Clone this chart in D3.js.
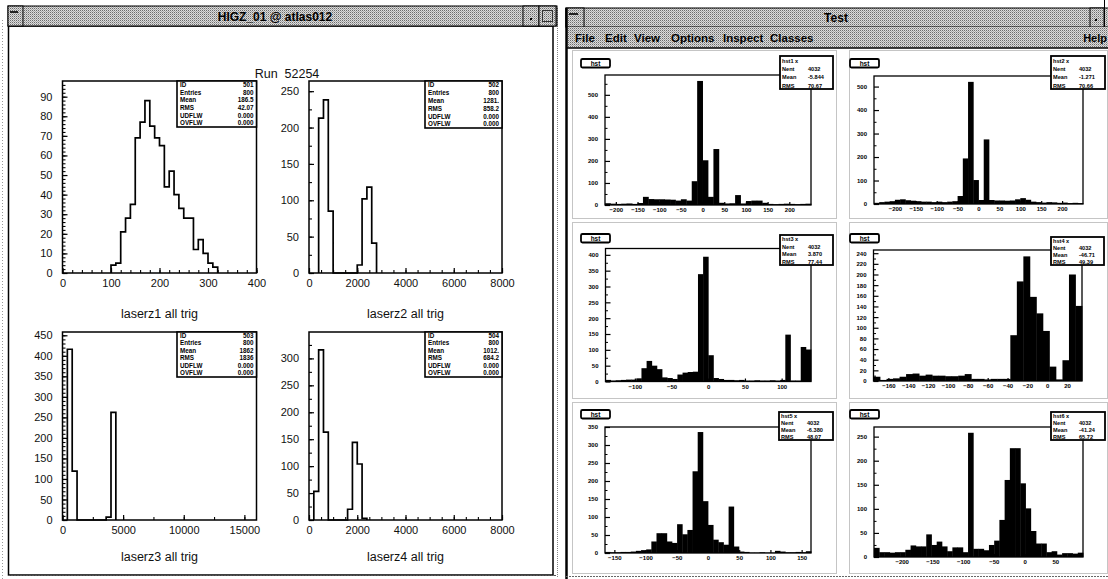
<!DOCTYPE html>
<html><head><meta charset="utf-8">
<script src="https://cdn.jsdelivr.net/npm/d3@7"></script>
<style>body{margin:0;background:#fff}svg{display:block}</style>
</head><body>
<svg id="c" width="1108" height="579"></svg>
<script>
// ---------------- DATA ----------------
const leftWindowTitle = "HIGZ_01 @ atlas012";
const runTitle = "Run  52254";
const leftTitles = ["laserz1 all trig", "laserz2 all trig", "laserz3 all trig", "laserz4 all trig"];
const statLabels = ["ID", "Entries", "Mean", "RMS", "UDFLW", "OVFLW"];

const laserz1Start = 100, laserz1BinWidth = 10;
const laserz1Counts = [4, 5, 21, 28, 35, 69, 77, 88, 75, 69, 65, 44, 52, 40, 33, 28, 28, 12, 17, 10, 5, 3];
const laserz1XTicks = [0, 100, 200, 300, 400];
const laserz1YTicks = [0, 10, 20, 30, 40, 50, 60, 70, 80, 90];
const laserz1Stats = ["501", "800", "186.5", "42.07", "0.000", "0.000"];

const laserz2Start = 400, laserz2BinWidth = 200;
const laserz2Counts = [213, 238, 85, 0, 0, 0, 0, 0, 11, 102, 118, 41];
const laserz2XTicks = [0, 2000, 4000, 6000, 8000];
const laserz2YTicks = [0, 50, 100, 150, 200, 250];
const laserz2Stats = ["502", "800", "1281.", "858.2", "0.000", "0.000"];

const laserz3Start = 400, laserz3BinWidth = 400;
const laserz3Counts = [416, 119, 0, 0, 0, 0, 0, 0, 7, 262];
const laserz3XTicks = [0, 5000, 10000, 15000];
const laserz3YTicks = [0, 50, 100, 150, 200, 250, 300, 350, 400, 450];
const laserz3Stats = ["503", "800", "1862", "1836", "0.000", "0.000"];

const laserz4Start = 200, laserz4BinWidth = 200;
const laserz4Counts = [53, 316, 163, 0, 0, 0, 0, 20, 144, 104, 3];
const laserz4XTicks = [0, 2000, 4000, 6000, 8000];
const laserz4YTicks = [0, 50, 100, 150, 200, 250, 300];
const laserz4Stats = ["504", "800", "1012.", "684.2", "0.000", "0.000"];

const rightWindowTitle = "Test";
const menuItems = ["File", "Edit", "View", "Options", "Inspect", "Classes"];
const helpItem = "Help";
const padTitle = "hst";
const padStatLabels = ["", "Nent", "Mean", "RMS"];

const pad1Domain = [-225, 250];
const pad1Counts = [8, 6, 5, 6, 7, 5, 9, 37, 27, 26, 26, 25, 24, 20, 26, 20, 108, 563, 203, 37, 254, 10, 7, 8, 45, 7, 18, 20, 20, 10, 5, 4, 5, 6, 5, 4, 5, 6];
const pad1XTicks = [-200, -150, -100, -50, 0, 50, 100, 150, 200];
const pad1YTicks = [0, 100, 200, 300, 400, 500];
const pad1Stats = ["hst1 x", "4032", "-5.844", "70.67"];

const pad2Domain = [-250, 250];
const pad2Counts = [5, 8, 10, 12, 18, 20, 16, 14, 12, 10, 10, 8, 10, 8, 10, 12, 34, 194, 520, 102, 17, 275, 17, 15, 15, 14, 15, 20, 25, 18, 10, 8, 6, 8, 7, 5, 6, 4, 5, 4];
const pad2XTicks = [-200, -150, -100, -50, 0, 50, 100, 150, 200];
const pad2YTicks = [0, 100, 200, 300, 400, 500];
const pad2Stats = ["hst2 x", "4032", "-1.271", "70.66"];

const pad3Domain = [-140, 140];
const pad3Counts = [5, 3, 4, 5, 6, 6, 10, 42, 65, 50, 39, 13, 11, 8, 22, 28, 30, 31, 339, 394, 83, 11, 8, 5, 5, 4, 5, 3, 3, 4, 3, 3, 4, 3, 5, 148, 3, 3, 109, 101];
const pad3XTicks = [-100, -50, 0, 50, 100];
const pad3YTicks = [0, 50, 100, 150, 200, 250, 300, 350, 400];
const pad3Stats = ["hst3 x", "4032", "3.870", "77.44"];

const pad4Domain = [-175, 35];
const pad4Counts = [8, 2, 4, 5, 8, 13, 14, 10, 12, 10, 10, 9, 9, 10, 13, 4, 4, 3, 4, 4, 4, 86, 187, 234, 158, 127, 94, 27, 3, 39, 200, 141];
const pad4XTicks = [-160, -140, -120, -100, -80, -60, -40, -20, 0, 20];
const pad4YTicks = [0, 20, 40, 60, 80, 100, 120, 140, 160, 180, 200, 220, 240];
const pad4Stats = ["hst4 x", "4032", "-46.71", "49.39"];

const pad5Domain = [-165, 165];
const pad5Counts = [3, 2, 2, 3, 3, 4, 6, 8, 10, 32, 55, 55, 32, 28, 80, 52, 64, 227, 336, 144, 78, 37, 30, 23, 129, 18, 4, 3, 1, 1, 2, 1, 1, 6, 4, 2, 2, 3, 2, 5];
const pad5XTicks = [-150, -100, -50, 0, 50, 100, 150];
const pad5YTicks = [0, 50, 100, 150, 200, 250, 300, 350];
const pad5Stats = ["hst5 x", "4032", "-6.380", "48.07"];

const pad6Domain = [-245, 95];
const pad6Counts = [19, 10, 10, 9, 10, 10, 15, 24, 22, 22, 47, 25, 32, 22, 12, 20, 20, 10, 258, 17, 17, 14, 25, 34, 77, 160, 226, 226, 153, 101, 54, 28, 28, 10, 12, 5, 8, 8, 7, 9];
const pad6XTicks = [-200, -150, -100, -50, 0, 50];
const pad6YTicks = [0, 50, 100, 150, 200, 250];
const pad6Stats = ["hst6 x", "4032", "-41.24", "65.72"];

// ---------------- DRAWING ----------------
const FONT = "'Liberation Sans', Arial, Helvetica, sans-serif";
const svg = d3.select("#c");
const defs = svg.append("defs");
const pat = defs.append("pattern").attr("id", "stip").attr("width", 2).attr("height", 2).attr("patternUnits", "userSpaceOnUse");
pat.append("rect").attr("width", 2).attr("height", 2).attr("fill", "#dcdcdc");
pat.append("rect").attr("width", 1).attr("height", 1).attr("fill", "#6c6c6c");
pat.append("rect").attr("x", 1).attr("y", 1).attr("width", 1).attr("height", 1).attr("fill", "#a8a8a8");

svg.append("rect").attr("width", 1108).attr("height", 579).attr("fill", "#fff");

svg.append("line").attr("x1", 2.5).attr("x2", 2.5).attr("y1", 20).attr("y2", 579).attr("stroke", "#999").attr("stroke-dasharray", "1,2");
svg.append("line").attr("x1", 557.5).attr("x2", 557.5).attr("y1", 8).attr("y2", 577).attr("stroke", "#888").attr("stroke-dasharray", "1,1");

// ---------- LEFT WINDOW ----------
svg.append("rect").attr("x", 8.5).attr("y", 26).attr("width", 544.5).attr("height", 549)
  .attr("fill", "#fff").attr("stroke", "#000").attr("stroke-width", 1.5);
svg.append("line").attr("x1", 8).attr("x2", 556).attr("y1", 575.5).attr("y2", 575.5).attr("stroke", "#555").attr("stroke-dasharray", "2,1");
svg.append("rect").attr("x", 8).attr("y", 6).attr("width", 549).attr("height", 20).attr("fill", "url(#stip)").attr("stroke", "#000").attr("stroke-width", 1);
svg.append("rect").attr("x", 8).attr("y", 6).attr("width", 15).attr("height", 20).attr("fill", "url(#stip)").attr("stroke", "#000").attr("stroke-width", 1);
svg.append("rect").attr("x", 10).attr("y", 11).attr("width", 8).attr("height", 2).attr("fill", "#222");
svg.append("rect").attr("x", 523).attr("y", 6).attr("width", 16).attr("height", 20).attr("fill", "url(#stip)").attr("stroke", "#000").attr("stroke-width", 1);
svg.append("rect").attr("x", 530).attr("y", 18).attr("width", 2).attr("height", 2).attr("fill", "#000");
svg.append("rect").attr("x", 539).attr("y", 6).attr("width", 17).attr("height", 20).attr("fill", "url(#stip)").attr("stroke", "#000").attr("stroke-width", 1);
svg.append("rect").attr("x", 542.5).attr("y", 10.5).attr("width", 10).attr("height", 11).attr("fill", "none").attr("stroke", "#333").attr("stroke-width", 1);
svg.append("text").attr("x", 275).attr("y", 21).attr("text-anchor", "middle").attr("font-family", FONT)
  .attr("font-size", 12).attr("font-weight", "bold").attr("fill", "#000").text(leftWindowTitle);

svg.append("text").attr("x", 287).attr("y", 77.5).attr("text-anchor", "middle").attr("font-family", FONT)
  .attr("font-size", 12.5).attr("fill", "#111").style("white-space", "pre").text(runTitle);

function leftPanel(o) {
  const [x0, x1, y0, y1] = o.box;
  const x = d3.scaleLinear().domain(o.xDomain).range([x0, x1]);
  const y = d3.scaleLinear().domain(o.yDomain).range([y1, y0]);
  const g = svg.append("g").attr("color", "#000");
  const noDomain = s => s.select(".domain").remove();
  g.append("g").attr("transform", `translate(0,${y1})`)
    .call(d3.axisBottom(x).tickValues(d3.range(o.xDomain[0], o.xDomain[1] + 1e-6, o.xMinor)).tickSize(-3).tickFormat(""))
    .call(noDomain).selectAll("line").attr("stroke-width", 1.1);
  g.append("g").attr("transform", `translate(${x0},0)`)
    .call(d3.axisLeft(y).tickValues(d3.range(0, o.yDomain[1], o.yMinor)).tickSize(-3).tickFormat(""))
    .call(noDomain).selectAll("line").attr("stroke-width", 1.1);
  const xa = g.append("g").attr("transform", `translate(0,${y1})`)
    .call(d3.axisBottom(x).tickValues(o.xTicks).tickSize(-5).tickPadding(6).tickFormat(d3.format("d")))
    .call(noDomain);
  const ya = g.append("g").attr("transform", `translate(${x0},0)`)
    .call(d3.axisLeft(y).tickValues(o.yTicks).tickSize(-5).tickPadding(10).tickFormat(d3.format("d")))
    .call(noDomain);
  [xa, ya].forEach(a => {
    a.attr("font-family", null).attr("font-size", null);
    a.selectAll("line").attr("stroke-width", 1.2);
    a.selectAll("text").attr("font-family", FONT).attr("font-size", 11).attr("fill", "#111");
  });
  let p = `M${x(o.start)},${y(0)}`;
  o.counts.forEach((c, i) => {
    p += `V${y(c)}H${x(o.start + (i + 1) * o.binWidth)}`;
  });
  p += `V${y(0)}`;
  g.append("path").attr("d", p).attr("fill", "none").attr("stroke", "#000").attr("stroke-width", 1.7);
  g.append("rect").attr("x", x0).attr("y", y0).attr("width", x1 - x0).attr("height", y1 - y0)
    .attr("fill", "none").attr("stroke", "#000").attr("stroke-width", 1.5);
  const [sx0, sy0, sy1] = o.stat;
  const sb = g.append("g");
  sb.append("rect").attr("x", sx0).attr("y", sy0).attr("width", x1 - sx0).attr("height", sy1 - sy0)
    .attr("fill", "#fff").attr("stroke", "#000").attr("stroke-width", 1.6);
  const rh = (sy1 - sy0) / statLabels.length;
  statLabels.forEach((lab, i) => {
    const ty = sy0 + rh * (i + 1) - 1.6;
    sb.append("text").attr("x", sx0 + 3).attr("y", ty).attr("font-family", FONT).attr("font-size", 6.3)
      .attr("font-weight", "bold").attr("fill", "#000").text(lab);
    sb.append("text").attr("x", x1 - 3).attr("y", ty).attr("text-anchor", "end").attr("font-family", FONT)
      .attr("font-size", 6.3).attr("font-weight", "bold").attr("fill", "#000").text(o.stats[i]);
  });
  g.append("text").attr("x", (x0 + x1) / 2).attr("y", o.capY).attr("text-anchor", "middle")
    .attr("font-family", FONT).attr("font-size", 12.5).attr("fill", "#111").text(o.caption);
}

leftPanel({ box: [62.5, 256.5, 81, 273], xDomain: [0, 400], yDomain: [0, 98], xMinor: 20, yMinor: 2,
  xTicks: laserz1XTicks, yTicks: laserz1YTicks, start: laserz1Start, binWidth: laserz1BinWidth, counts: laserz1Counts,
  stat: [177, 81, 127], stats: laserz1Stats, caption: leftTitles[0], capY: 318 });
leftPanel({ box: [309, 502, 81, 273], xDomain: [0, 8000], yDomain: [0, 264], xMinor: 500, yMinor: 25,
  xTicks: laserz2XTicks, yTicks: laserz2YTicks, start: laserz2Start, binWidth: laserz2BinWidth, counts: laserz2Counts,
  stat: [425, 81, 128], stats: laserz2Stats, caption: leftTitles[1], capY: 318 });
leftPanel({ box: [62.5, 256.5, 332, 520], xDomain: [0, 16000], yDomain: [0, 458], xMinor: 2500, yMinor: 10,
  xTicks: laserz3XTicks, yTicks: laserz3YTicks, start: laserz3Start, binWidth: laserz3BinWidth, counts: laserz3Counts,
  stat: [177, 332, 377], stats: laserz3Stats, caption: leftTitles[2], capY: 561 });
leftPanel({ box: [309, 502, 332, 520], xDomain: [0, 8000], yDomain: [0, 349], xMinor: 500, yMinor: 25,
  xTicks: laserz4XTicks, yTicks: laserz4YTicks, start: laserz4Start, binWidth: laserz4BinWidth, counts: laserz4Counts,
  stat: [425, 332, 377], stats: laserz4Stats, caption: leftTitles[3], capY: 561 });

// ---------- RIGHT WINDOW ----------
svg.append("rect").attr("x", 566).attr("y", 8).attr("width", 545).attr("height", 19).attr("fill", "url(#stip)").attr("stroke", "#000").attr("stroke-width", 1);
svg.append("rect").attr("x", 566).attr("y", 8).attr("width", 18).attr("height", 19).attr("fill", "url(#stip)").attr("stroke", "#000").attr("stroke-width", 1);
svg.append("rect").attr("x", 569).attr("y", 13).attr("width", 9).attr("height", 2).attr("fill", "#222");
svg.append("rect").attr("x", 1090).attr("y", 8).attr("width", 14).attr("height", 19).attr("fill", "url(#stip)").attr("stroke", "#000").attr("stroke-width", 1);
svg.append("rect").attr("x", 1095).attr("y", 19).attr("width", 2).attr("height", 2).attr("fill", "#000");
svg.append("line").attr("x1", 1104.5).attr("x2", 1104.5).attr("y1", 0).attr("y2", 27).attr("stroke", "#000");
svg.append("text").attr("x", 836).attr("y", 22).attr("text-anchor", "middle").attr("font-family", FONT)
  .attr("font-size", 12).attr("font-weight", "bold").attr("fill", "#000").text(rightWindowTitle);
svg.append("rect").attr("x", 566).attr("y", 27).attr("width", 545).attr("height", 21).attr("fill", "url(#stip)");
svg.append("line").attr("x1", 566).attr("x2", 1108).attr("y1", 48).attr("y2", 48).attr("stroke", "#000").attr("stroke-width", 1.5);
const menuX = [575, 605, 634, 671, 723, 770];
svg.append("g").selectAll("text").data(menuItems).join("text")
  .attr("x", (d, i) => menuX[i]).attr("y", 42).attr("font-family", FONT).attr("font-size", 11.5)
  .attr("font-weight", "bold").attr("fill", "#000").text(d => d);
svg.append("text").attr("x", 1107).attr("y", 42).attr("text-anchor", "end").attr("font-family", FONT).attr("font-size", 11)
  .attr("font-weight", "bold").attr("fill", "#000").text(helpItem);
svg.append("line").attr("x1", 566.5).attr("x2", 566.5).attr("y1", 8).attr("y2", 579).attr("stroke", "#000").attr("stroke-width", 2.5);
svg.append("line").attr("x1", 566).attr("x2", 1108).attr("y1", 576.5).attr("y2", 576.5).attr("stroke", "#666").attr("stroke-dasharray", "2,1");

const padCols = [[572, 836], [849, 1107]];
const padRows = [[50, 218], [222, 398], [402, 573]];
padRows.forEach(r => padCols.forEach(c => {
  svg.append("rect").attr("x", c[0] + 0.5).attr("y", r[0] + 0.5).attr("width", c[1] - c[0]).attr("height", r[1] - r[0])
    .attr("fill", "none").attr("stroke", "#8a8a8a").attr("stroke-width", 1).attr("stroke-dasharray", "1,1");
}));

function rightPad(o) {
  const [fx0, fx1, fy0, fy1] = o.frame;
  const x = d3.scaleLinear().domain(o.domain).range([fx0, fx1]);
  const y = d3.scaleLinear().domain([0, o.yMax]).range([fy1, fy0]);
  const w = (o.domain[1] - o.domain[0]) / o.counts.length;
  const g = svg.append("g").attr("color", "#000");
  g.selectAll("rect.bar").data(o.counts).join("rect").attr("class", "bar")
    .attr("x", (d, i) => x(o.domain[0] + i * w))
    .attr("width", (d, i) => x(o.domain[0] + (i + 1) * w) - x(o.domain[0] + i * w) + 0.4)
    .attr("y", d => y(d)).attr("height", d => y(0) - y(d)).attr("fill", "#000");
  g.append("rect").attr("x", fx0).attr("y", fy0).attr("width", fx1 - fx0).attr("height", fy1 - fy0)
    .attr("fill", "none").attr("stroke", "#000").attr("stroke-width", 1.3);
  const noDomain = s => s.select(".domain").remove();
  const step = o.yTicks[1] - o.yTicks[0];
  g.append("g").attr("transform", `translate(${fx0},0)`)
    .call(d3.axisLeft(y).tickValues(d3.range(step / 2, o.yMax, step)).tickSize(-2.5).tickFormat(""))
    .call(noDomain);
  const ya = g.append("g").attr("transform", `translate(${fx0},0)`)
    .call(d3.axisLeft(y).tickValues(o.yTicks).tickSize(-5).tickPadding(7).tickFormat(d3.format("d"))).call(noDomain);
  const xa = g.append("g").attr("transform", `translate(0,${fy1})`)
    .call(d3.axisBottom(x).tickValues(o.xTicks).tickSize(-3).tickPadding(3).tickFormat(d3.format("d"))).call(noDomain);
  [xa, ya].forEach(a => {
    a.attr("font-family", null).attr("font-size", null);
    a.selectAll("line").attr("stroke-width", 1.2);
    a.selectAll("text").attr("font-family", FONT).attr("font-size", 6).attr("font-weight", "bold").attr("fill", "#000");
  });
  const [tx0, ty0] = o.tbox;
  g.append("rect").attr("x", tx0).attr("y", ty0).attr("width", 29).attr("height", 8.5).attr("rx", 1.5)
    .attr("fill", "#fff").attr("stroke", "#000").attr("stroke-width", 1.8);
  g.append("text").attr("x", tx0 + 14.5).attr("y", ty0 + 6.8).attr("text-anchor", "middle").attr("font-family", FONT)
    .attr("font-size", 6.5).attr("font-weight", "bold").attr("fill", "#000").text(padTitle);
  const [sx0, sx1, sy0, sy1] = o.sbox;
  g.append("rect").attr("x", sx0).attr("y", sy0).attr("width", sx1 - sx0).attr("height", sy1 - sy0)
    .attr("fill", "#fff").attr("stroke", "#000").attr("stroke-width", 1.8);
  const rh = (sy1 - sy0) / padStatLabels.length;
  padStatLabels.forEach((lab, i) => {
    const ty = sy0 + rh * (i + 1) - 1.5;
    if (i === 0) {
      g.append("text").attr("x", sx0 + 2).attr("y", ty).attr("font-family", FONT).attr("font-size", 5.6)
        .attr("font-weight", "bold").attr("fill", "#000").text(o.stats[0]);
    } else {
      g.append("text").attr("x", sx0 + 2).attr("y", ty).attr("font-family", FONT).attr("font-size", 5.6)
        .attr("font-weight", "bold").attr("fill", "#000").text(lab);
      g.append("text").attr("x", sx0 + 28).attr("y", ty).attr("font-family", FONT).attr("font-size", 5.6)
        .attr("font-weight", "bold").attr("fill", "#000").text(o.stats[i]);
    }
  });
}

rightPad({ frame: [605, 811, 75, 205], domain: pad1Domain, counts: pad1Counts, yMax: 590, xTicks: pad1XTicks, yTicks: pad1YTicks,
  tbox: [581, 59], sbox: [780, 833, 56, 89], stats: pad1Stats });
rightPad({ frame: [874, 1083, 76, 204], domain: pad2Domain, counts: pad2Counts, yMax: 545, xTicks: pad2XTicks, yTicks: pad2YTicks,
  tbox: [850, 59], sbox: [1051, 1105, 56, 89], stats: pad2Stats });
rightPad({ frame: [605.5, 811, 248.5, 381.5], domain: pad3Domain, counts: pad3Counts, yMax: 420, xTicks: pad3XTicks, yTicks: pad3YTicks,
  tbox: [581, 234], sbox: [780, 833, 235, 265], stats: pad3Stats });
rightPad({ frame: [873.5, 1082, 250, 381], domain: pad4Domain, counts: pad4Counts, yMax: 246, xTicks: pad4XTicks, yTicks: pad4YTicks,
  tbox: [850, 234], sbox: [1051, 1104, 237, 265], stats: pad4Stats });
rightPad({ frame: [605, 811, 427, 553], domain: pad5Domain, counts: pad5Counts, yMax: 350, xTicks: pad5XTicks, yTicks: pad5YTicks,
  tbox: [581, 410], sbox: [779, 833, 412, 440], stats: pad5Stats });
rightPad({ frame: [874, 1083, 427, 557], domain: pad6Domain, counts: pad6Counts, yMax: 270, xTicks: pad6XTicks, yTicks: pad6YTicks,
  tbox: [850, 410], sbox: [1051, 1105, 412, 440], stats: pad6Stats });
</script>
</body></html>
